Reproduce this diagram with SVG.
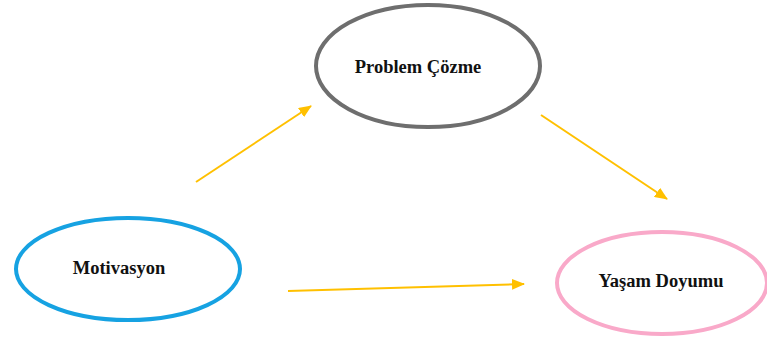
<svg xmlns="http://www.w3.org/2000/svg" width="767" height="342" viewBox="0 0 767 342">
<style>
.lbl{font-family:"Liberation Serif","Times New Roman",serif;font-weight:bold;font-size:18.5px;fill:#111;text-anchor:middle}
.node{fill:#fff;stroke-width:4}
.edge{stroke:#ffc000;stroke-width:2;fill:none}
</style>
<defs>
<marker id="ah" markerWidth="13" markerHeight="11" refX="12" refY="5.5" orient="auto" markerUnits="userSpaceOnUse">
<path d="M0,0 L13,5.5 L0,11 Z" fill="#ffc000"/>
</marker>
</defs>
<rect width="767" height="342" fill="#fff"/>
<g id="problem">
<ellipse class="node" cx="428" cy="66" rx="112" ry="61" stroke="#6e6e6e"/>
<text class="lbl" x="418" y="73">Problem Çözme</text>
</g>
<g id="motivasyon">
<ellipse class="node" cx="128" cy="269" rx="112" ry="51" stroke="#16a2e2"/>
<text class="lbl" x="119" y="274">Motivasyon</text>
</g>
<g id="yasam">
<ellipse class="node" cx="662" cy="283" rx="105" ry="51" stroke="#f9a9c9"/>
<text class="lbl" x="661" y="287">Yaşam Doyumu</text>
</g>
<g id="connectors">
<line class="edge" x1="196" y1="182" x2="311" y2="106" marker-end="url(#ah)"/>
<line class="edge" x1="541" y1="115" x2="667" y2="199" marker-end="url(#ah)"/>
<line class="edge" x1="288" y1="291" x2="524" y2="284" marker-end="url(#ah)"/>
</g>
</svg>
